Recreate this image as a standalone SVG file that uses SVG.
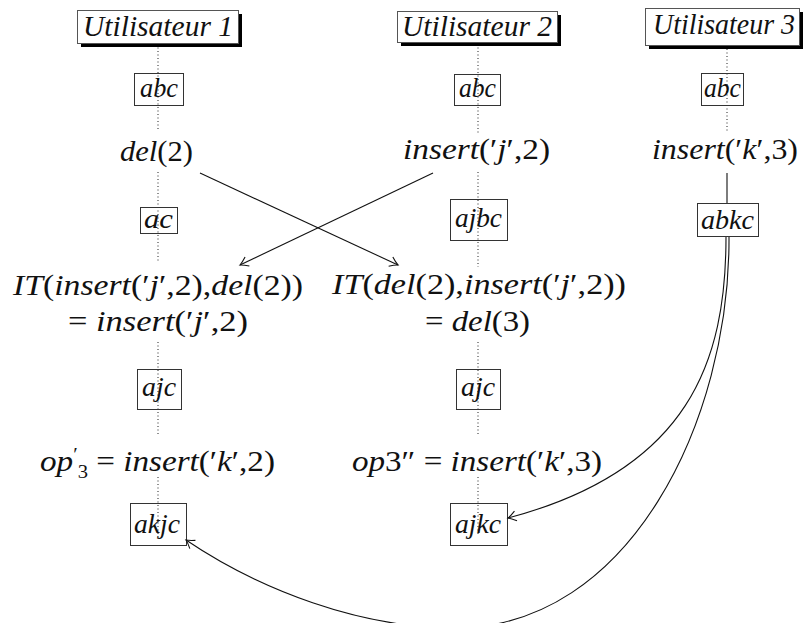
<svg xmlns="http://www.w3.org/2000/svg" width="805" height="623" viewBox="0 0 805 623" font-family="'Liberation Serif', 'DejaVu Serif', serif">
<defs>
<style>
text{font-family:'Liberation Serif','DejaVu Serif',serif;fill:#111;}
.m{font-size:29px;font-style:normal;}
.i{font-style:italic;}
.h{font-size:30px;font-style:italic;}
.s{font-size:28px;font-style:italic;}
.box{fill:none;stroke:#333;stroke-width:1;}
.hbox{fill:#fff;stroke:#555;stroke-width:1;}
.shadow{fill:#000;}
.dot{stroke:#222;stroke-width:1;stroke-dasharray:1 2.5;fill:none;}
.edge{stroke:#111;stroke-width:1.1;fill:none;}
.arr{marker-end:url(#ah);}
</style>
<marker id="ah" markerWidth="14" markerHeight="14" refX="0" refY="0" viewBox="-10 -7 12 14" orient="auto" markerUnits="userSpaceOnUse">
<path d="M-8,-5 Q-3,-1.2 0,0 Q-3,1.2 -8,5" fill="none" stroke="#111" stroke-width="1.1"/>
</marker>
</defs>
<rect width="805" height="623" fill="#fff"/>

<g id="lifelines">
<line class="dot" x1="158" y1="44" x2="158" y2="131"/>
<line class="dot" x1="158" y1="172" x2="158" y2="262"/>
<line class="dot" x1="158" y1="342" x2="158" y2="435"/>
<line class="dot" x1="158" y1="477" x2="158" y2="537"/>
<line class="dot" x1="478" y1="44" x2="478" y2="133"/>
<line class="dot" x1="478" y1="172" x2="478" y2="267"/>
<line class="dot" x1="478" y1="342" x2="478" y2="435"/>
<line class="dot" x1="478" y1="477" x2="478" y2="535"/>
<line class="dot" x1="727" y1="49" x2="727" y2="133"/>
</g>

<g id="user1">
<rect class="shadow" x="81" y="14" width="161" height="33"/>
<rect class="hbox" x="77.5" y="10.5" width="161" height="33"/>
<text class="h" x="83" y="36" textLength="150" lengthAdjust="spacingAndGlyphs">Utilisateur 1</text>
</g>
<g id="user2">
<rect class="shadow" x="401" y="15" width="160" height="31"/>
<rect class="hbox" x="397.5" y="11.5" width="160" height="31"/>
<text class="h" x="402" y="36" textLength="150" lengthAdjust="spacingAndGlyphs">Utilisateur 2</text>
</g>
<g id="user3">
<rect class="shadow" x="649" y="12" width="154" height="37"/>
<rect class="hbox" x="645.5" y="8.5" width="154" height="37"/>
<text class="h" x="653" y="34" textLength="142" lengthAdjust="spacingAndGlyphs">Utilisateur 3</text>
</g>

<g id="s1-abc"><rect class="box" x="134.5" y="73.5" width="49" height="32"/><text class="s" x="140" y="97" textLength="38" lengthAdjust="spacingAndGlyphs">abc</text></g>
<g id="s2-abc"><rect class="box" x="454.5" y="74.5" width="46" height="31"/><text class="s" x="459" y="97" textLength="37" lengthAdjust="spacingAndGlyphs">abc</text></g>
<g id="s3-abc"><rect class="box" x="701.5" y="73.5" width="42" height="32"/><text class="s" x="704" y="97" textLength="37" lengthAdjust="spacingAndGlyphs">abc</text></g>

<g id="op1"><text class="m" x="120" y="161" textLength="73" lengthAdjust="spacingAndGlyphs"><tspan class="i">del</tspan>(2)</text></g>
<g id="op2"><text class="m" x="403" y="159" textLength="147" lengthAdjust="spacingAndGlyphs"><tspan class="i">insert</tspan>(′<tspan class="i">j</tspan>′,2)</text></g>
<g id="op3"><text class="m" x="652" y="159" textLength="146" lengthAdjust="spacingAndGlyphs"><tspan class="i">insert</tspan>(′<tspan class="i">k</tspan>′,3)</text></g>

<g id="s1-ac"><rect class="box" x="140.5" y="207.5" width="37" height="26"/><text class="s" x="144" y="228" textLength="29" lengthAdjust="spacingAndGlyphs">ac</text></g>
<g id="s2-ajbc"><rect class="box" x="450.5" y="199.5" width="57" height="41"/><text class="s" x="455" y="227" textLength="47" lengthAdjust="spacingAndGlyphs">ajbc</text></g>
<g id="s3-abkc"><rect class="box" x="697.5" y="203.5" width="61" height="33"/><text class="s" x="701" y="229" textLength="53" lengthAdjust="spacingAndGlyphs">abkc</text></g>

<g id="it1">
<text class="m" x="13" y="295" textLength="290" lengthAdjust="spacingAndGlyphs"><tspan class="i">IT</tspan>(<tspan class="i">insert</tspan>(′<tspan class="i">j</tspan>′,2),<tspan class="i">del</tspan>(2))</text>
<text class="m" x="68" y="331" textLength="180" lengthAdjust="spacingAndGlyphs">= <tspan class="i">insert</tspan>(′<tspan class="i">j</tspan>′,2)</text>
</g>
<g id="it2">
<text class="m" x="332" y="294" textLength="294" lengthAdjust="spacingAndGlyphs"><tspan class="i">IT</tspan>(<tspan class="i">del</tspan>(2),<tspan class="i">insert</tspan>(′<tspan class="i">j</tspan>′,2))</text>
<text class="m" x="425" y="331" textLength="105" lengthAdjust="spacingAndGlyphs">= <tspan class="i">del</tspan>(3)</text>
</g>

<g id="s1-ajc"><rect class="box" x="137.5" y="369.5" width="44" height="40"/><text class="s" x="142" y="396" textLength="34" lengthAdjust="spacingAndGlyphs">ajc</text></g>
<g id="s2-ajc"><rect class="box" x="456.5" y="369.5" width="44" height="40"/><text class="s" x="461" y="396" textLength="34" lengthAdjust="spacingAndGlyphs">ajc</text></g>

<g id="op3p"><text class="m" x="40" y="471" textLength="235" lengthAdjust="spacingAndGlyphs"><tspan class="i">op</tspan><tspan font-size="18" dy="-10">′</tspan><tspan font-size="18" dy="17">3</tspan><tspan dy="-7"> = </tspan><tspan class="i">insert</tspan>(′<tspan class="i">k</tspan>′,2)</text></g>
<g id="op3pp"><text class="m" x="352" y="471" textLength="250" lengthAdjust="spacingAndGlyphs"><tspan class="i">op</tspan>3″ = <tspan class="i">insert</tspan>(′<tspan class="i">k</tspan>′,3)</text></g>

<g id="s1-akjc"><rect class="box" x="130.5" y="503.5" width="56" height="42"/><text class="s" x="134" y="533" textLength="46" lengthAdjust="spacingAndGlyphs">akjc</text></g>
<g id="s2-ajkc"><rect class="box" x="450.5" y="503.5" width="57" height="42"/><text class="s" x="455" y="533" textLength="46" lengthAdjust="spacingAndGlyphs">ajkc</text></g>

<g id="connectors">
<line class="edge arr" x1="200" y1="173" x2="398" y2="265"/>
<line class="edge arr" x1="433" y1="173" x2="240" y2="265"/>
<line class="edge" x1="727" y1="173" x2="727" y2="203"/>
<path class="edge arr" d="M726,237 C726,360 690,470 508,518"/>
<path class="edge arr" d="M729,237 C730,420 630,628 455,628 C360,628 260,590 186,540"/>
</g>
</svg>
